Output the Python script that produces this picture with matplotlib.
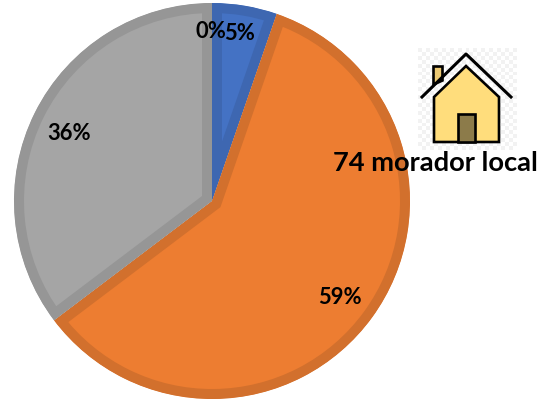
import numpy as np
import matplotlib
matplotlib.use('Agg')
import matplotlib.pyplot as plt
from matplotlib.patches import Polygon, Rectangle

values = [5.3, 59.4, 35.3, 0.0]
pct_labels = ['5%', '59%', '36%', '0%']
fill_colors = ['#4472C4', '#ED7D31', '#A5A5A5', '#FFC000']
edge_colors = ['#3E67B1', '#D2702D', '#969696', '#E6AD00']
label_x = [240, 340, 69, 211]
label_y = [34, 297, 134, 31]
note = '74 morador local'

H = 400
plt.rcParams['font.family'] = ['Lato', 'DejaVu Sans']

fig = plt.figure(figsize=(5.55, 4.0), dpi=100)
ax = fig.add_axes([0, 0, 1, 1])

wedges, _ = ax.pie(values, colors=fill_colors, startangle=90, counterclock=False,
                   center=(212, H - 201), radius=198, normalize=True, frame=True)
# border sits inside each slice, so clip the stroke to the wedge itself
# (pie turns clipping off, has to go back on)
for w, ec in zip(wedges, edge_colors):
    w.set_edgecolor(ec)
    w.set_linewidth(14.4)
    w.set_joinstyle('miter')
    w.set_clip_on(True)
    w.set_clip_path(w.get_path(), w.get_transform())

ax.set_xlim(0, 555)
ax.set_ylim(0, H)
ax.set_aspect('equal')
ax.axis('off')

for lab, x, y in zip(pct_labels, label_x, label_y):
    ax.text(x, H - y, lab, ha='center', va='center', fontsize=15.8, fontweight='bold', color='black', zorder=5)

# house icon on its faint checker background
checker = np.indices((26, 25)).sum(axis=0) % 2
ax.imshow(checker, cmap='gray', vmin=-18, vmax=1.0, extent=(418, 517, H - 150, H - 48),
          interpolation='nearest', aspect='auto', zorder=3)
ax.set_xlim(0, 555)
ax.set_ylim(0, H)


def pts(*xy):
    return [(x, H - y) for x, y in xy]


ax.add_patch(Polygon(pts((433, 84), (433, 66), (442, 66), (442, 80)), closed=True, fc='#EBC872', ec='black', lw=1.9, zorder=4))
ax.add_patch(Polygon(pts((434, 97), (466, 66), (499, 97), (499, 142), (434, 142)), closed=True, fc='#FFDD7C', ec='black', lw=1.9, zorder=4, joinstyle='miter'))
ax.add_patch(Rectangle((458, H - 142), 17, 28, fc='#8C7B4A', ec='black', lw=1.9, zorder=4))
ax.plot([422, 466, 511], [H - 97, H - 54, H - 97], color='black', lw=2.2, zorder=4)

ax.text(435.5, H - 163, note, ha='center', va='center', fontsize=19.7, fontweight='bold', color='black', zorder=6)

fig.savefig('out.png', dpi=100)
